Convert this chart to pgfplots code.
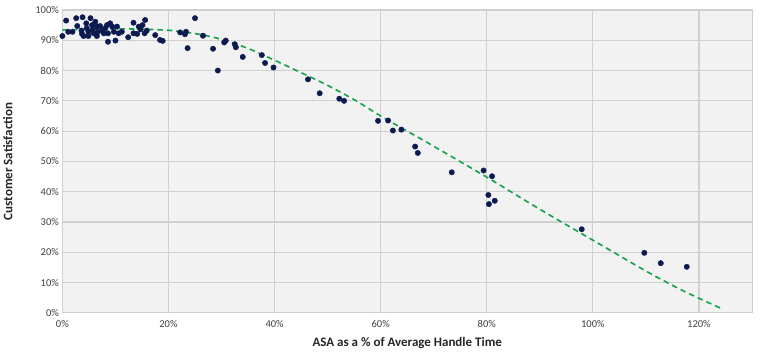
\documentclass[border=0pt]{standalone}
\usepackage{pgfplots}
\pgfplotsset{compat=1.18}
\usepackage{fontspec}
\setmainfont{Carlito}
\definecolor{bgc}{HTML}{F2F2F2}
\definecolor{gridc}{HTML}{D0D0D0}
\definecolor{ptc}{HTML}{0C1A50}
\definecolor{trend}{HTML}{13A24B}
\definecolor{txt}{HTML}{404040}
\begin{document}
\begin{tikzpicture}
\begin{axis}[
  scale only axis,
  width=690pt, height=303pt,
  xmin=0, xmax=130, ymin=0, ymax=100,
  xtick={0,20,...,120}, ytick={0,10,...,100},
  xticklabel={\pgfmathprintnumber{\tick}\%},
  yticklabel={\pgfmathprintnumber{\tick}\%},
  /pgf/number format/assume math mode=true,
  ticklabel style={font=\fontsize{10.5}{12}\selectfont, text=txt},
  xticklabel style={yshift=-4pt},
  tick style={draw=none},
  grid=major,
  major grid style={draw=gridc, line width=1.2pt},
  axis background/.style={fill=bgc},
  axis line style={draw=gridc, line width=1pt},
  xlabel={\textbf{ASA as a \% of Average Handle Time}},
  ylabel={\textbf{Customer Satisfaction}},
  label style={font=\fontsize{13}{15}\selectfont, text=black!85},
  xlabel style={yshift=-3pt},
  ylabel style={yshift=16pt},
  clip=false,
]
\addplot[trend, line width=1.6pt, dash pattern=on 5.5pt off 4pt, smooth] coordinates {
(0,93.4) (10,93.8) (20,93.3) (26,91.9) (30,90.3) (35,87.3) (40,83.4) (45,79.3) (50,75.1) (55,70.4) (60,65) (65,60) (70,55) (80,44.8) (90,34.2) (100,24) (110,13.8) (117,7.3) (124.5,1.2)
};
\addplot[only marks, mark=*, mark size=2.7pt, mark options={fill=ptc, draw=ptc}] coordinates {
(0,91.4) (0.7,96.5) (1.1,92.8) (1.9,92.8) (2.6,97.3) (2.8,94.7) (3.8,97.6) (3.6,93.2) (3.7,92.1) (4.0,91.4)
(4.5,95.6) (4.6,94.0) (4.9,92.8) (4.9,91.4) (5.3,97.3) (5.6,95.0) (5.7,93.4) (5.9,92.3) (6.2,96.1) (6.5,94.5)
(6.7,92.8) (6.5,91.4) (7.1,94.7) (7.5,93.2) (7.8,92.3) (8.1,94.0) (8.4,95.0) (8.6,92.3) (8.6,89.5) (9.0,95.6)
(9.4,94.5) (9.7,92.8) (10.0,89.9) (10.3,94.5) (10.6,92.3) (11.2,92.8) (12.4,91.0) (13.4,95.8) (13.4,92.3) (14.1,92.1)
(14.4,94.5) (14.7,93.6) (15.1,95.0) (15.5,92.3) (15.9,93.2) (15.6,96.7) (17.5,91.7) (18.4,90.1) (18.9,89.8)
(22.2,92.6) (23.1,92.0) (23.3,92.8) (23.6,87.4) (25.0,97.3) (26.5,91.5) (28.4,87.2) (29.3,80.0)
(30.5,89.3) (30.8,89.9) (32.5,88.7) (32.7,87.7) (34.0,84.5) (37.6,85.1) (38.2,82.5) (39.8,81.0)
(46.3,77.1) (48.5,72.5) (52.2,70.7) (53.1,70.0) (59.5,63.4) (61.4,63.5) (62.3,60.2) (63.9,60.5)
(66.5,54.9) (67.0,52.8) (73.4,46.4) (79.4,47.0) (81.0,45.1) (80.3,38.9) (81.5,37.0) (80.4,35.9)
(97.9,27.6) (109.7,19.8) (112.8,16.4) (117.7,15.2)
};
\end{axis}
\path[use as bounding box] (-62pt,-39pt) rectangle (698pt,313pt);
\end{tikzpicture}
\end{document}
